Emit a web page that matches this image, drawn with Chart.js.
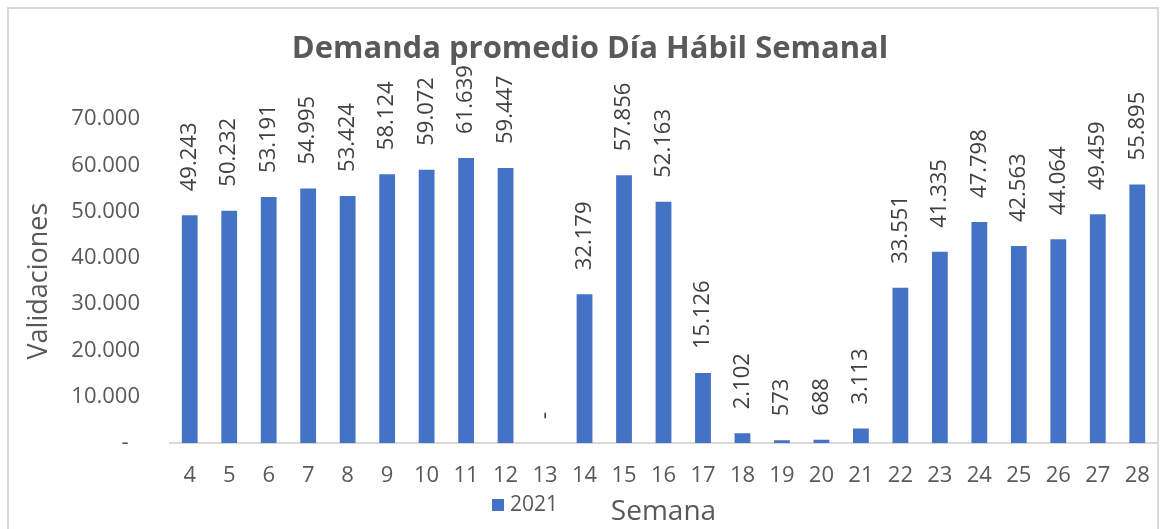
<!DOCTYPE html>
<html>
<head>
<meta charset="utf-8">
<script src="https://cdn.jsdelivr.net/npm/chart.js@4.4.0/dist/chart.umd.min.js"></script>
<style>
    body { margin: 0; background: #fff; }
    #wrap { position: relative; width: 1175px; height: 529px; overflow: hidden; }
    #frame { position: absolute; left: 7px; top: 7px; width: 1152px; height: 560px; border: 2px solid #d9d9d9; box-sizing: border-box; }
    canvas { position: absolute; left: 0; top: 0; }
</style>
</head>
<body>
<div id="wrap">
    <div id="frame"></div>
    <canvas id="demandChart" width="1175" height="529"></canvas>
</div>
<script>
// Weeks and average weekday demand (validations)
const weeks = ['4', '5', '6', '7', '8', '9', '10', '11', '12', '13', '14', '15', '16',
    '17', '18', '19', '20', '21', '22', '23', '24', '25', '26', '27', '28'];
const demand2021 = [49243, 50232, 53191, 54995, 53424, 58124, 59072, 61639, 59447, 0,
    32179, 57856, 52163, 15126, 2102, 573, 688, 3113, 33551, 41335, 47798, 42563,
    44064, 49459, 55895];
const seriesLabel = '2021';

const FONT = "'Century Gothic', 'Open Sans', sans-serif";
const TEXT_COLOR = '#595959';
const BAR_COLOR = '#4472C4';

// Format numbers like 49.243, zero as a dash
function formatThousands(value) {
    if (value === 0) return '-';
    return String(value).replace(/\B(?=(\d{3})+(?!\d))/g, '.');
}

// Rotated value labels above each bar
const barLabels = {
    id: 'barLabels',
    afterDatasetsDraw(chart) {
        const ctx = chart.ctx;
        const meta = chart.getDatasetMeta(0);
        const values = chart.data.datasets[0].data;
        ctx.save();
        ctx.font = `22px ${FONT}`;
        ctx.fillStyle = '#404040';
        ctx.textAlign = 'left';
        ctx.textBaseline = 'middle';
        meta.data.forEach((bar, i) => {
            ctx.save();
            ctx.translate(bar.x, bar.y - 24);
            ctx.rotate(-Math.PI / 2);
            ctx.fillText(formatThousands(values[i]), 0, 0);
            ctx.restore();
        });
        ctx.restore();
    }
};

// Legend entry sits left of the axis title, like the original
const sideLegend = {
    id: 'sideLegend',
    afterDraw(chart) {
        const ctx = chart.ctx;
        const ds = chart.data.datasets[0];
        ctx.save();
        ctx.fillStyle = ds.backgroundColor;
        ctx.fillRect(492, 499, 12, 12);
        ctx.font = `21px ${FONT}`;
        ctx.fillStyle = TEXT_COLOR;
        ctx.textAlign = 'left';
        ctx.textBaseline = 'middle';
        ctx.fillText(ds.label, 510, 505);
        ctx.restore();
    }
};

const ctx = document.getElementById('demandChart').getContext('2d');
const demandChart = new Chart(ctx, {
    type: 'bar',
    data: {
        labels: weeks,
        datasets: [{
            label: seriesLabel,
            data: demand2021,
            backgroundColor: BAR_COLOR,
            barPercentage: 0.8,
            categoryPercentage: 0.5
        }]
    },
    options: {
        responsive: false,
        animation: false,
        layout: { padding: { left: 23, right: 18, top: 0, bottom: 0 } },
        plugins: {
            legend: { display: false },
            tooltip: { enabled: false },
            title: {
                display: true,
                text: 'Demanda promedio Día Hábil Semanal',
                color: TEXT_COLOR,
                font: { family: FONT, size: 31, weight: 'bold' },
                padding: { top: 31, bottom: 51 }
            }
        },
        scales: {
            x: {
                grid: { display: false, drawTicks: false },
                border: { display: true, color: '#d9d9d9', width: 2 },
                ticks: {
                    color: TEXT_COLOR,
                    font: { family: FONT, size: 22 },
                    padding: 20,
                    maxRotation: 0
                },
                title: {
                    display: true,
                    text: 'Semana',
                    color: TEXT_COLOR,
                    font: { family: FONT, size: 28 },
                    padding: { top: 0, bottom: 0 }
                },
                afterFit: (scale) => { scale.height = 86; }
            },
            y: {
                min: 0,
                max: 70000,
                grid: { display: false, drawTicks: false },
                border: { display: false },
                ticks: {
                    stepSize: 10000,
                    color: TEXT_COLOR,
                    font: { family: FONT, size: 22 },
                    padding: 30,
                    callback: (value) => value === 0 ? '-  ' : formatThousands(value)
                },
                title: {
                    display: true,
                    text: 'Validaciones',
                    color: TEXT_COLOR,
                    font: { family: FONT, size: 27 },
                    padding: { top: 0, bottom: 0 }
                },
                afterFit: (scale) => { scale.width = 147; }
            }
        }
    },
    plugins: [barLabels, sideLegend]
});
</script>
</body>
</html>
